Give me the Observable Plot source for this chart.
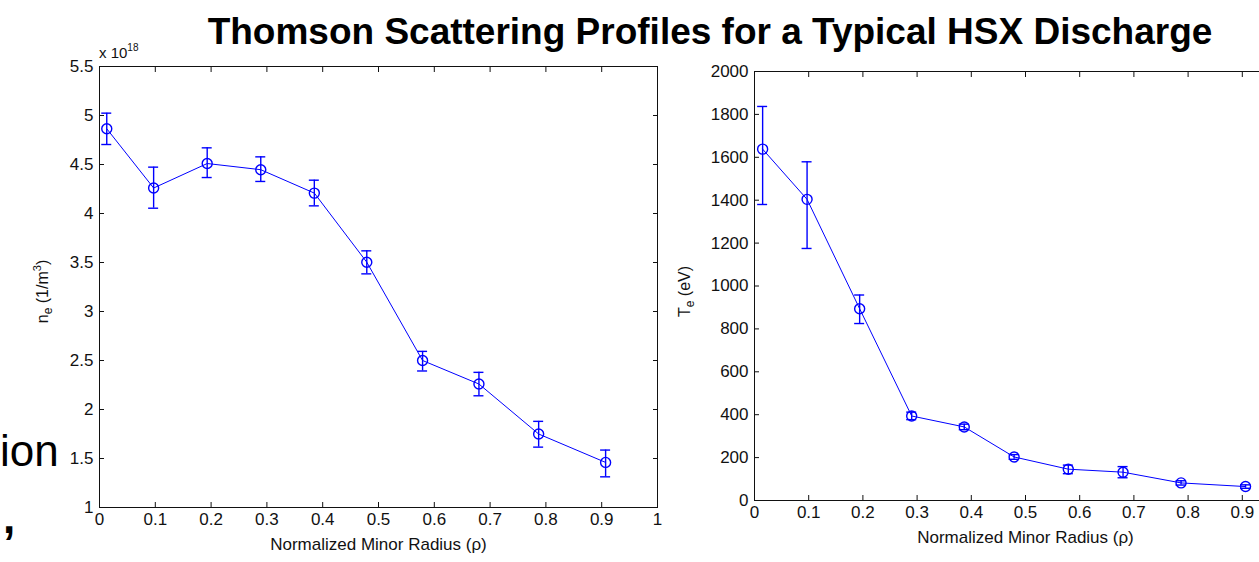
<!DOCTYPE html>
<html><head><meta charset="utf-8">
<script src="https://cdn.jsdelivr.net/npm/d3@7"></script>
<script src="https://cdn.jsdelivr.net/npm/@observablehq/plot@0.6"></script>
<style>
body{margin:0;background:#fff;}
#wrap{position:relative;width:1259px;height:562px;overflow:hidden;background:#fff;font-family:"Liberation Sans",Arial,sans-serif;color:#111;}
#wrap svg{max-width:none !important;height:562px !important;}
.abs{position:absolute;white-space:nowrap;}
#title{left:160px;width:1100px;top:13px;text-align:center;font-weight:bold;font-size:37px;line-height:37px;color:#000;}
.ylab{font-size:16px;line-height:16px;transform:rotate(-90deg);transform-origin:center center;}
.ylab sub{font-size:12px;vertical-align:-4px;}
.ylab sup{font-size:11px;vertical-align:7px;}
#exp{left:99px;top:42px;font-size:15px;}
#exp sup{font-size:10px;vertical-align:7px;}
.frag{font-size:44px;line-height:44px;color:#000;}
</style>
</head><body>
<div id="wrap">
  <div id="left" class="abs" style="left:0;top:0;width:680px;height:562px;"></div>
  <div id="right" class="abs" style="left:680px;top:0;width:640px;height:562px;"></div>
  <div id="title" class="abs">Thomson Scattering Profiles for a Typical HSX Discharge</div>
  <div id="exp" class="abs">x 10<sup>18</sup></div>
  <div class="abs ylab" style="left:-3px;top:278px;width:90px;text-align:center;">n<sub>e</sub> (1/m<sup>3</sup>)</div>
  <div class="abs ylab" style="left:652px;top:281px;width:70px;text-align:center;">T<sub>e</sub> (eV)</div>
  <div class="abs frag" style="left:0px;width:56px;text-align:right;top:429px;">ion</div>
  <div class="abs frag" style="left:3px;width:20px;text-align:left;top:496px;font-weight:bold;">,</div>
</div>
<script>
// ---- data ----
const rhoNe = [0.013, 0.097, 0.193, 0.289, 0.385, 0.479, 0.579, 0.680, 0.787, 0.907];
const ne    = [4.865, 4.26, 4.51, 4.447, 4.208, 3.503, 2.50, 2.26, 1.75, 1.46];   // x 1e18 m^-3
const neHi  = [5.024, 4.473, 4.67, 4.578, 4.34, 3.619, 2.593, 2.379, 1.879, 1.586];
const neLo  = [4.704, 4.054, 4.367, 4.327, 4.078, 3.384, 2.393, 2.14, 1.616, 1.313];

const rhoTe = [0.015, 0.097, 0.194, 0.290, 0.387, 0.479, 0.579, 0.680, 0.787, 0.906];
const te    = [1638, 1404, 894, 394, 343, 203, 146, 132, 82, 65];   // eV
const teHi  = [1837, 1579, 958, 412, 356, 214, 165, 158, 92, 73];
const teLo  = [1380, 1175, 825, 377, 330, 192, 125, 106, 72, 57];

const xTicks       = [0, 0.1, 0.2, 0.3, 0.4, 0.5, 0.6, 0.7, 0.8, 0.9, 1];
const xTicksShown  = [0, 0.1, 0.2, 0.3, 0.4, 0.5, 0.6, 0.7, 0.8, 0.9];   // right panel: label "1" lies outside the picture
const neTicks = [1, 1.5, 2, 2.5, 3, 3.5, 4, 4.5, 5, 5.5];
const teTicks = [0, 200, 400, 600, 800, 1000, 1200, 1400, 1600, 1800, 2000];
const xLabel  = "Normalized Minor Radius (\u03c1)";

const FONT = '"Liberation Sans", Arial, sans-serif';
const BLUE = "#0000ff", INK = "#111";

function panel(o) {
  const data = o.x.map((x, i) => ({x, y: o.y[i], lo: o.lo[i], hi: o.hi[i]}));
  const blank = () => "";
  return Plot.plot({
    width: o.width, height: 562,
    marginLeft: o.ml, marginRight: o.mr, marginTop: o.mt, marginBottom: o.mb,
    x: {domain: [0, 1]}, y: {domain: o.yd},
    style: {fontFamily: FONT, fontSize: "17px", color: INK, background: "transparent", overflow: "visible", maxWidth: "none"},
    marks: [
      Plot.axisX(o.xl, {anchor: "bottom", tickSize: 0, tickPadding: 5, tickFormat: d => String(d), label: null}),
      Plot.axisX(xTicks, {anchor: "bottom", tickSize: 5, dy: -5, tickFormat: blank, label: null}),
      Plot.axisX(xTicks, {anchor: "top", tickSize: 5, dy: 5, tickFormat: blank, label: null}),
      Plot.axisY(o.yt, {anchor: "left", tickSize: 0, tickPadding: 6, tickFormat: d => String(d), label: null}),
      Plot.axisY(o.yt, {anchor: "left", tickSize: 5, dx: 5, tickFormat: blank, label: null}),
      Plot.axisY(o.yt, {anchor: "right", tickSize: 5, dx: -5, tickFormat: blank, label: null}),
      Plot.frame({stroke: INK, strokeWidth: 1}),
      Plot.line(data, {x: "x", y: "y", stroke: BLUE, strokeWidth: 1}),
      Plot.ruleX(data, {x: "x", y1: "lo", y2: "hi", stroke: BLUE, strokeWidth: 1.4}),
      Plot.ruleY(data, {y: "lo", x1: "x", x2: "x", insetLeft: -5, insetRight: -5, stroke: BLUE, strokeWidth: 1.4}),
      Plot.ruleY(data, {y: "hi", x1: "x", x2: "x", insetLeft: -5, insetRight: -5, stroke: BLUE, strokeWidth: 1.4}),
      Plot.dot(data, {x: "x", y: "y", r: 5, stroke: BLUE, strokeWidth: 1.4, fill: "none"}),
      Plot.text([xLabel], {frameAnchor: "bottom", dy: 42, text: d => d, fontSize: 17, fill: INK})
    ]
  });
}

document.getElementById("left").append(panel({
  x: rhoNe, y: ne, lo: neLo, hi: neHi, yd: [1, 5.5], yt: neTicks, xl: xTicks,
  width: 680, ml: 99, mr: 23, mt: 66, mb: 55
}));
document.getElementById("right").append(panel({
  x: rhoTe, y: te, lo: teLo, hi: teHi, yd: [0, 2000], yt: teTicks, xl: xTicksShown,
  width: 640, ml: 74, mr: 24, mt: 71, mb: 62
}));
</script>
</body></html>
